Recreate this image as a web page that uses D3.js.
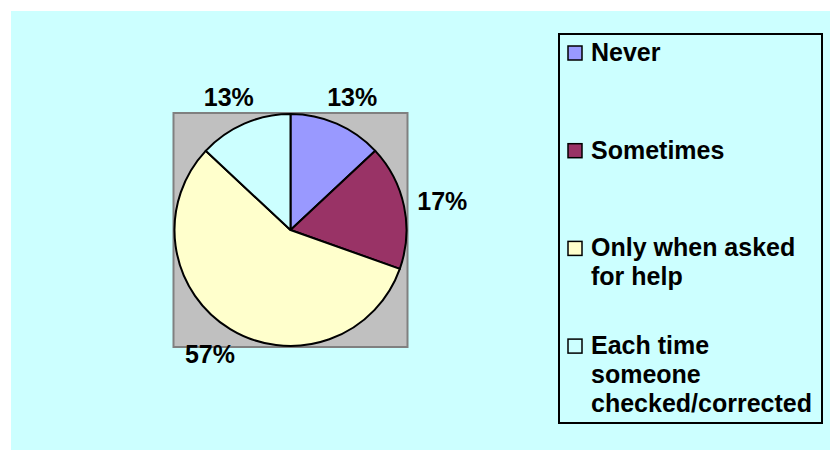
<!DOCTYPE html>
<html>
<head>
<meta charset="utf-8">
<script src="https://cdn.jsdelivr.net/npm/d3@7"></script>
<style>
    body { margin: 0; background: #fff; }
    text { font-family: "Liberation Sans", Arial, sans-serif; font-weight: bold; fill: #000; }
</style>
</head>
<body>
<div id="chart"></div>
<script>
// answers and how many people gave them
const categories = ["Never", "Sometimes", "Only when asked for help", "Each time someone checked/corrected"];
const counts = [3, 4, 13, 3];
const colors = ["#9999FF", "#993366", "#FFFFCC", "#CCFFFF"];

const width = 830, height = 450;

const svg = d3.select("#chart")
    .append("svg")
    .attr("width", width)
    .attr("height", height);

// chart area background
svg.append("rect")
    .attr("x", 11).attr("y", 11)
    .attr("width", width - 11).attr("height", height - 11)
    .attr("fill", "#CCFFFF");

// pie geometry
const cx = 290.5, cy = 230, radius = 116;

// grey plot area square round the pie
svg.append("rect")
    .attr("x", cx - radius - 1).attr("y", cy - radius - 1)
    .attr("width", 2 * radius + 2).attr("height", 2 * radius + 2)
    .attr("fill", "#C0C0C0")
    .attr("stroke", "#808080")
    .attr("stroke-width", 2);

const total = d3.sum(counts);
const pie = d3.pie().sort(null).value(d => d)(counts);
const arc = d3.arc().innerRadius(0).outerRadius(radius);

const g = svg.append("g").attr("transform", `translate(${cx},${cy})`);

g.selectAll("path.slice")
    .data(pie)
    .enter()
    .append("path")
    .attr("class", "slice")
    .attr("d", arc)
    .attr("fill", (d, i) => colors[i])
    .attr("stroke", "#000")
    .attr("stroke-width", 2)
    .attr("stroke-linejoin", "round");

// percent labels outside the pie (label centres on a slightly wide ellipse)
const labelRx = 155, labelRy = 145;
function midAngle(d) { return (d.startAngle + d.endAngle) / 2; }
g.selectAll("text.pct")
    .data(pie)
    .enter()
    .append("text")
    .attr("class", "pct")
    .attr("text-anchor", "middle")
    .attr("font-size", 25)
    .attr("x", d => labelRx * Math.sin(midAngle(d)))
    .attr("y", d => -labelRy * Math.cos(midAngle(d)) + 9)
    .text(d => Math.round(d.value / total * 100) + "%");

// legend
const legendX = 559, legendY = 34, legendW = 263, legendH = 389;
svg.append("rect")
    .attr("x", legendX).attr("y", legendY)
    .attr("width", legendW).attr("height", legendH)
    .attr("fill", "none")
    .attr("stroke", "#000")
    .attr("stroke-width", 2);

const firstBaseline = 61, entryStep = 97.7, lineStep = 29, maxTextW = 226;
const textX = 591;

categories.forEach(function (name, i) {
    const base = firstBaseline + i * entryStep;
    svg.append("rect")
        .attr("x", 568).attr("y", base - 15)
        .attr("width", 14).attr("height", 14)
        .attr("fill", colors[i])
        .attr("stroke", "#000")
        .attr("stroke-width", 1.5);

    // wrap the label into lines that fit the legend
    const t = svg.append("text").attr("font-size", 25).attr("x", textX).attr("y", base);
    const words = name.split(" ");
    let line = [], lineNo = 0;
    let tspan = t.append("tspan").attr("x", textX).attr("y", base);
    words.forEach(function (w) {
        line.push(w);
        tspan.text(line.join(" "));
        if (tspan.node().getComputedTextLength() > maxTextW && line.length > 1) {
            line.pop();
            tspan.text(line.join(" "));
            line = [w];
            lineNo++;
            tspan = t.append("tspan").attr("x", textX).attr("y", base + lineNo * lineStep).text(w);
        }
    });
});
</script>
</body>
</html>
